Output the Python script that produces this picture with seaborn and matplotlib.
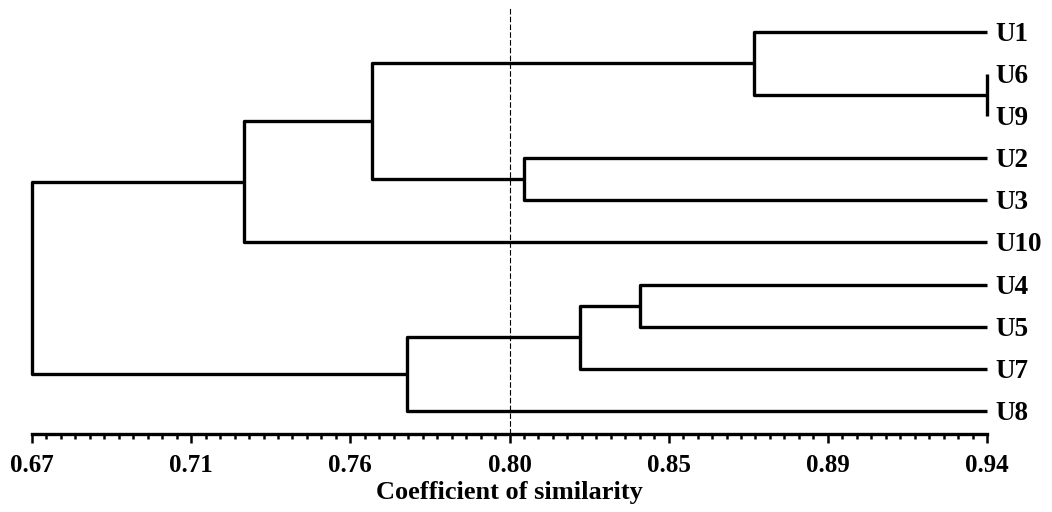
import numpy as np
import pandas as pd
import matplotlib
matplotlib.use("Agg")
import matplotlib.pyplot as plt
import seaborn as sns
from matplotlib.ticker import FixedLocator

# leaf order top to bottom
leaf_order = ["U1", "U6", "U9", "U2", "U3", "U10", "U4", "U5", "U7", "U8"]

# merges: N1..N9 in this order
merge_left = ["U6", "U1", "U2", "N2", "N4", "U4", "N6", "N7", "N5"]
merge_right = ["U9", "N1", "U3", "N3", "U10", "U5", "U7", "U8", "N8"]
merge_sim = [0.940, 0.874, 0.809, 0.766, 0.730, 0.842, 0.825, 0.776, 0.670]

cut_value = 0.805
tick_values = [0.67, 0.715, 0.76, 0.805, 0.85, 0.895, 0.94]
tick_labels = ["0.67", "0.71", "0.76", "0.80", "0.85", "0.89", "0.94"]
x_min, x_max = 0.67, 0.94

# build segments of the dendrogram
pos = {name: (x_max, i) for i, name in enumerate(leaf_order)}
rows = []
for k, (l, r, s) in enumerate(zip(merge_left, merge_right, merge_sim)):
    xl, yl = pos[l]
    xr, yr = pos[r]
    pts = [(xl, yl), (s, yl), (s, yr), (xr, yr)]
    for x, y in pts:
        rows.append({"seg": k, "x": x, "y": y})
    pos[f"N{k + 1}"] = (s, (yl + yr) / 2)
segments = pd.DataFrame(rows)

sns.set_theme(style="white")
plt.rcParams["font.family"] = ["Liberation Serif", "DejaVu Serif"]
plt.rcParams["font.weight"] = "bold"
plt.rcParams["text.color"] = "black"
plt.rcParams["axes.labelcolor"] = "black"
plt.rcParams["xtick.color"] = "black"
plt.rcParams["xtick.labelcolor"] = "black"

fig = plt.figure(figsize=(10.52, 5.12), dpi=100)
ax = fig.add_axes([32 / 1052, 78 / 512, 955 / 1052, 427 / 512])

sns.lineplot(data=segments, x="x", y="y", units="seg", estimator=None,
             sort=False, color="black", linewidth=2.4, ax=ax)
for line in ax.lines:
    line.set_clip_on(False)
    line.set_solid_capstyle("butt")

ax.axvline(cut_value, color="black", linewidth=0.8, linestyle=(0, (5, 2)))

ax.set_xlim(x_min, x_max)
ax.set_ylim(9.55, -0.59)

for name in leaf_order:
    x, y = pos[name]
    ax.text(x_max + 0.0023, y + 0.06, name, fontsize=19.5, fontweight="bold",
            va="center", ha="left", color="black")

for side in ["top", "left", "right"]:
    ax.spines[side].set_visible(False)
ax.spines["bottom"].set_linewidth(2.4)
ax.spines["bottom"].set_color("black")

ax.set_yticks([])
ax.xaxis.set_major_locator(FixedLocator(tick_values))
ax.xaxis.set_minor_locator(FixedLocator(np.linspace(x_min, x_max, 67)))
ax.set_xticklabels(tick_labels, fontsize=18, fontweight="bold", color="black")
ax.tick_params(axis="x", which="major", direction="out", length=6.5, width=1.8,
               color="black", bottom=True, pad=8)
ax.tick_params(axis="x", which="minor", direction="out", length=3.5, width=1.8,
               color="black", bottom=True)
ax.set_xlabel("Coefficient of similarity", fontsize=19, fontweight="bold",
              labelpad=3, color="black")
ax.set_ylabel("")
ax.grid(False)

fig.savefig("out.png", dpi=100)
